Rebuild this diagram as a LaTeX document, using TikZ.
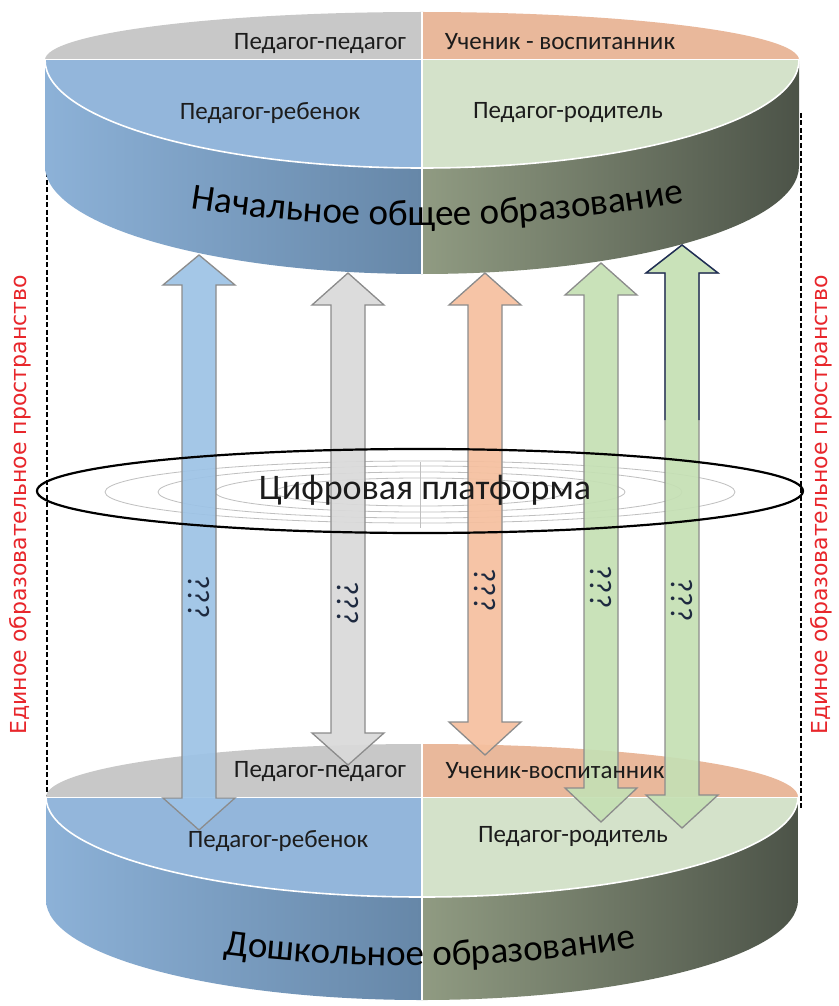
\documentclass[tikz,border=0pt]{standalone}
\usepackage{fontspec}
\setmainfont{Carlito}
\newfontfamily\redfont{DejaVu Sans}
\usetikzlibrary{decorations.text}
\definecolor{faceGrey}{HTML}{C8C8C8}
\definecolor{faceOrange}{HTML}{E9B89B}
\definecolor{faceBlue}{HTML}{93B6DB}
\definecolor{faceGreen}{HTML}{D4E2CA}
\definecolor{sideBlueL}{HTML}{8DB2D8}
\definecolor{sideBlueR}{HTML}{6687A8}
\definecolor{sideOliveL}{HTML}{909B82}
\definecolor{sideOliveR}{HTML}{4B5247}
\definecolor{arrBlue}{HTML}{9DC3E6}
\definecolor{arrGrey}{HTML}{DADADA}
\definecolor{arrOrange}{HTML}{F6C09F}
\definecolor{arrGreen}{HTML}{C5E0B4}
\definecolor{arrEdge}{HTML}{8C8C8C}
\definecolor{navyEdge}{HTML}{1F2F55}
\definecolor{txtDark}{HTML}{1C1C1C}
\definecolor{qmark}{HTML}{1E2A40}
\definecolor{spaceRed}{HTML}{E8262B}
\newcommand{\dblarr}[7]{%
  \filldraw[arrowbox, fill=#6] (#1,#2) coordinate (#7tip1) -- (#1+36,#3) -- (#1+17,#3) -- (#1+17,#4) -- (#1+36,#4) -- (#1,#5) coordinate (#7tip2) -- (#1-36,#4) -- (#1-17,#4) -- (#1-17,#3) -- (#1-36,#3) -- cycle;}
\begin{document}
\begin{tikzpicture}[x=1pt,y=-1pt,
  arrowbox/.style={draw=arrEdge, line width=1.3pt, fill opacity=0.92, line join=miter},
  facetext/.style={font=\fontsize{25}{25}\selectfont, text=txtDark, anchor=base, inner sep=0pt},
  qtext/.style={font=\fontsize{31}{31}\selectfont, text=qmark, rotate=-90, inner sep=0pt},
  redtext/.style={font=\redfont\fontsize{22}{22}\selectfont, text=spaceRed, rotate=90, inner sep=0pt},
  dashline/.style={draw=black, line width=1.3pt, dash pattern=on 5pt off 2.5pt},
  faint/.style={draw=black!25, line width=0.8pt}]
\useasboundingbox (0,0) rectangle (838,1006);
\fill[white] (0,0) rectangle (838,1006);

% dashed boundary lines
\coordinate (dl1) at (47,157); \coordinate (dl2) at (47,810);
\coordinate (dr1) at (801,113); \coordinate (dr2) at (801,810);
\draw[dashline] (dl1) -- (dl2);
\draw[dashline] (dr1) -- (dr2);

% ===== top cylinder =====
\begin{scope}
\clip (45,60) -- (45,166) .. controls (45,225.6) and (213.8,274) .. (422,274) .. controls (630.2,274) and (799,225.6) .. (799,166) -- (799,60) -- cycle;
\shade[left color=sideBlueL, right color=sideBlueR] (40,50) rectangle (422,280);
\shade[left color=sideOliveL, right color=sideOliveR] (422,50) rectangle (805,280);
\end{scope}
\begin{scope}
\clip (45,60) .. controls (45,33.5) and (213.8,12) .. (422,12) .. controls (630.2,12) and (799,33.5) .. (799,60) .. controls (799,119.6) and (630.2,168) .. (422,168) .. controls (213.8,168) and (45,119.6) .. (45,60) -- cycle;
\fill[faceGrey] (40,0) rectangle (422,60);
\fill[faceOrange] (422,0) rectangle (805,60);
\fill[faceBlue] (40,60) rectangle (422,175);
\fill[faceGreen] (422,60) rectangle (805,175);
\draw[white, line width=1pt] (40,60) -- (805,60);
\end{scope}
\draw[white, line width=1.6pt] (45,60) .. controls (45,119.6) and (213.8,168) .. (422,168) .. controls (630.2,168) and (799,119.6) .. (799,60);
\draw[white, line width=1.2pt] (422,12) -- (422,274);

\node[facetext] (t1) at (320,50) {Педагог-педагог};
\node[facetext] (t2) at (560,50) {Ученик - воспитанник};
\node[facetext] (t3) at (270,120) {Педагог-ребенок};
\node[facetext] (t4) at (568,118) {Педагог-родитель};
\path[decorate, decoration={text along path, text align=center,
  text={|\fontsize{37}{37}\selectfont|Начальное общее образование}}]
  (160,203) .. controls (330,234) and (530,234) .. (715,196);
\coordinate (topcyl) at (422,220);

% ===== bottom cylinder =====
\begin{scope}
\clip (46,797) -- (46,900) .. controls (46,955.2) and (214.3,1000) .. (422,1000) .. controls (629.7,1000) and (798,955.2) .. (798,900) -- (798,797) -- cycle;
\shade[left color=sideBlueL, right color=sideBlueR] (40,790) rectangle (422,1006);
\shade[left color=sideOliveL, right color=sideOliveR] (422,790) rectangle (805,1006);
\end{scope}
\begin{scope}
\clip (46,797) .. controls (46,767.7) and (214.3,744) .. (422,744) .. controls (629.7,744) and (798,767.7) .. (798,797) .. controls (798,852.2) and (629.7,897) .. (422,897) .. controls (214.3,897) and (46,852.2) .. (46,797) -- cycle;
\fill[faceGrey] (40,740) rectangle (422,797);
\fill[faceOrange] (422,740) rectangle (805,797);
\fill[faceBlue] (40,797) rectangle (422,900);
\fill[faceGreen] (422,797) rectangle (805,900);
\draw[white, line width=1pt] (40,797) -- (805,797);
\end{scope}
\draw[white, line width=1.6pt] (46,797) .. controls (46,852.2) and (214.3,897) .. (422,897) .. controls (629.7,897) and (798,852.2) .. (798,797);
\draw[white, line width=1.2pt] (422,744) -- (422,1000);
\path[decorate, decoration={text along path, text align=center,
  text={|\fontsize{37}{37}\selectfont|Дошкольное образование}}]
  (195,950) .. controls (340,972) and (520,972) .. (665,942);

% ===== platform (faint inner drawing) =====
\draw[faint] (420,492) ellipse [x radius=315, y radius=31];
\draw[faint] (420,492) ellipse [x radius=262, y radius=26];
\draw[faint] (420,492) ellipse [x radius=205, y radius=20];
\draw[faint] (420,492) ellipse [x radius=145, y radius=14];
\draw[faint] (420,462) -- (420,528);

% ===== arrows =====
\dblarr{199}{255}{285}{798}{830}{arrBlue}{ab}
\dblarr{348}{273}{305}{733}{765}{arrGrey}{ag}
\dblarr{485}{273}{305}{722}{755}{arrOrange}{ao}
\dblarr{601}{263}{295}{788}{822}{arrGreen}{ac}
\dblarr{682}{245}{273}{795}{828}{arrGreen}{ad}
\draw[navyEdge, line width=1.4pt, line join=miter] (665,420) -- (665,273) -- (646,273) -- (adtip1) -- (718,273) -- (699,273) -- (699,420);

% platform outline and title
\draw[black, line width=2.2pt] (420,491) ellipse [x radius=383, y radius=42];
\node[font=\fontsize{36}{36}\selectfont, text=txtDark] (plat) at (425,490) {Цифровая платформа};

% question marks
\node[qtext] (q1) at (199,597) {???};
\node[qtext] (q2) at (348,603) {???};
\node[qtext] (q3) at (485,590) {???};
\node[qtext] (q4) at (601,587) {???};
\node[qtext] (q5) at (682,600) {???};

% bottom face texts (over arrows)
\node[facetext] (b1) at (320,777) {Педагог-педагог};
\node[facetext] (b2) at (555,778) {Ученик-воспитанник};
\node[facetext] (b3) at (278,847) {Педагог-ребенок};
\node[facetext] (b4) at (573,842) {Педагог-родитель};

% side labels
\node[redtext] (lspace) at (20,505) {Единое образовательное пространство};
\node[redtext] (rspace) at (821,505) {Единое образовательное пространство};
\end{tikzpicture}
\end{document}
